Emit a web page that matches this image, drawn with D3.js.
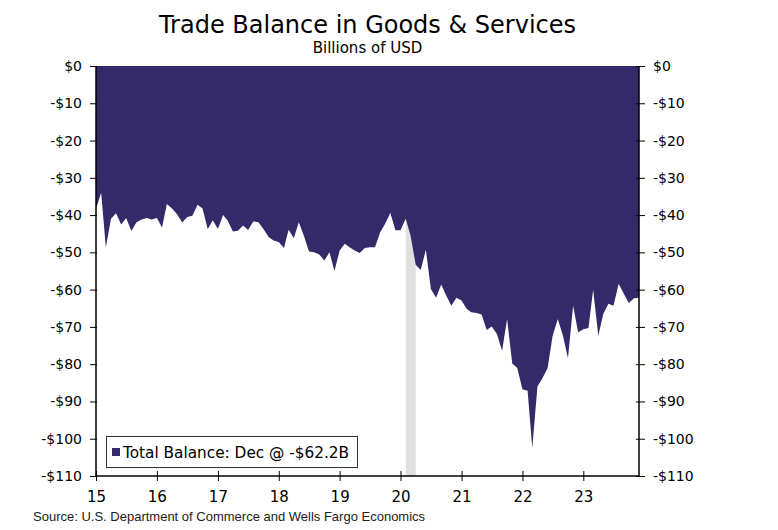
<!DOCTYPE html>
<html>
<head>
<meta charset="utf-8">
<script src="https://cdn.jsdelivr.net/npm/d3@7"></script>
<style>
  html, body { margin: 0; padding: 0; background: #fff; }
  svg { display: block; }
</style>
</head>
<body>
<svg id="chart" width="778" height="530"></svg>
<script>
// ---- Data (billions of USD), monthly Jan 2015 – Dec 2023 ----
const startYear = 2015;
const values2015 = [-38.3, -34.0, -48.6, -41.0, -39.5, -42.5, -40.8, -44.3, -41.9, -41.2, -40.8, -41.2];
const values2016 = [-40.8, -43.3, -37.0, -38.2, -39.8, -42.0, -40.5, -40.2, -37.2, -38.2, -43.8, -41.4];
const values2017 = [-43.7, -40.0, -41.5, -44.4, -44.2, -42.8, -44.0, -41.7, -41.9, -43.7, -45.9, -46.8];
const values2018 = [-47.2, -48.8, -43.9, -46.2, -41.9, -45.6, -49.8, -50.0, -50.6, -52.2, -50.0, -55.0];
const values2019 = [-49.5, -47.7, -48.6, -49.5, -50.2, -48.8, -48.6, -48.6, -44.6, -42.3, -39.4, -44.1];
const values2020 = [-44.1, -41.0, -45.5, -53.3, -54.7, -49.3, -59.8, -62.2, -58.6, -61.6, -64.3, -62.2];
const values2021 = [-62.9, -65.2, -66.1, -66.3, -66.7, -70.8, -69.9, -71.9, -76.4, -67.9, -79.8, -81.0];
const values2022 = [-86.7, -87.1, -102.4, -86.0, -83.8, -81.0, -72.4, -67.9, -72.4, -78.4, -64.3, -71.4];
const values2023 = [-70.6, -70.3, -60.0, -72.4, -66.5, -63.8, -64.3, -58.4, -61.1, -63.6, -62.3, -62.2];
const yTickValues = [0, -10, -20, -30, -40, -50, -60, -70, -80, -90, -100, -110];
const xTickYears = [2015, 2016, 2017, 2018, 2019, 2020, 2021, 2022, 2023];
const recession = [[2020, 1], [2020, 3]]; // Feb 2020 – Apr 2020 (month index)
const legendLabel = "Total Balance: Dec @ -$62.2B";

const allValues = [].concat(values2015, values2016, values2017, values2018, values2019,
                            values2020, values2021, values2022, values2023);
const data = allValues.map((v, i) => ({ date: new Date(startYear + Math.floor(i / 12), i % 12, 1), value: v }));

// ---- Layout ----
const W = 778, H = 530;
const m = { left: 96, right: 139, top: 66, bottom: 54 };
const svg = d3.select("#chart");
const x = d3.scaleTime()
  .domain([data[0].date, data[data.length - 1].date])
  .range([m.left, W - m.right]);
const y = d3.scaleLinear().domain([-110, 0]).range([H - m.bottom, m.top]);

const fillColor = "#342a6a";
const font = "'DejaVu Sans', Verdana, sans-serif";

// Recession shading
const r0 = new Date(recession[0][0], recession[0][1], 1);
const r1 = new Date(recession[1][0], recession[1][1], 1);
svg.append("rect")
  .attr("x", x(r0)).attr("width", x(r1) - x(r0))
  .attr("y", y(0)).attr("height", y(-110) - y(0))
  .attr("fill", "#e0e0e0");

// Area
const area = d3.area()
  .x(d => x(d.date))
  .y0(y(0))
  .y1(d => y(d.value));
svg.append("path").datum(data).attr("d", area).attr("fill", fillColor);

// Axes
const leftAxis = d3.axisLeft(y).tickValues(yTickValues).tickSize(6).tickPadding(8)
  .tickFormat(d => d === 0 ? "$0" : "-$" + Math.abs(d));
const gL = svg.append("g").attr("transform", `translate(${m.left},0)`).call(leftAxis);
gL.selectAll(".tick line").attr("x1", 1);

const rightAxis = d3.axisRight(y).tickValues(yTickValues).tickSize(6).tickPadding(8)
  .tickFormat(d => d === 0 ? "$0" : "-$" + Math.abs(d));
const gR = svg.append("g").attr("transform", `translate(${W - m.right},0)`).call(rightAxis);
gR.selectAll(".tick line").attr("x1", -3);

const bottomAxis = d3.axisBottom(x)
  .tickValues(xTickYears.map(yr => new Date(yr, 0, 1)))
  .tickSize(5).tickPadding(10)
  .tickFormat(d => String(d.getFullYear()).slice(2));
const gB = svg.append("g").attr("transform", `translate(0,${H - m.bottom})`).call(bottomAxis);
gB.selectAll(".tick line").attr("y1", -5);

[gL, gR, gB].forEach(g => {
  g.select(".domain").attr("stroke", "#000").attr("stroke-width", 1.5);
  g.selectAll(".tick line").attr("stroke", "#000").attr("stroke-width", 1);
  g.selectAll("text").attr("font-family", font).attr("font-size", 14).attr("fill", "#000");
});
gB.selectAll("text").attr("font-size", 15);
gL.select(".domain").attr("d", `M0,${y(0)}V${y(-110)}`);
gR.select(".domain").attr("d", `M0,${y(0)}V${y(-110)}`);
gB.select(".domain").attr("d", `M${m.left},0H${W - m.right}`);

// Title
svg.append("text").attr("x", (m.left + W - m.right) / 2).attr("y", 33)
  .attr("text-anchor", "middle").attr("font-family", font).attr("font-size", 24)
  .attr("fill", "#000").text("Trade Balance in Goods & Services");
svg.append("text").attr("x", (m.left + W - m.right) / 2).attr("y", 53)
  .attr("text-anchor", "middle").attr("font-family", font).attr("font-size", 15)
  .attr("fill", "#000").text("Billions of USD");

// Legend
const lg = svg.append("g");
lg.append("rect").attr("x", 106.5).attr("y", 436.5).attr("width", 251).attr("height", 31)
  .attr("fill", "#fff").attr("stroke", "#333").attr("stroke-width", 1);
lg.append("rect").attr("x", 112).attr("y", 448).attr("width", 8).attr("height", 8).attr("fill", fillColor);
lg.append("text").attr("x", 123).attr("y", 458).attr("font-family", font).attr("font-size", 15.3)
  .attr("fill", "#000").text(legendLabel);

// Source
svg.append("text").attr("x", 33).attr("y", 521)
  .attr("font-family", "'Liberation Sans', Arial, sans-serif").attr("font-size", 13)
  .attr("fill", "#222").text("Source: U.S. Department of Commerce and Wells Fargo Economics");
</script>
</body>
</html>
